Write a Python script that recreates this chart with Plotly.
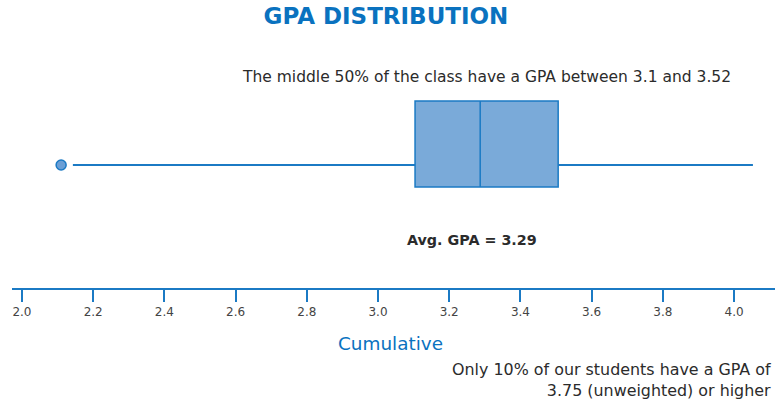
import plotly.graph_objects as go

# Data
q1 = [3.104]
median = [3.287]
q3 = [3.506]
lower_whisker = [2.143]
upper_whisker = [4.053]
outliers = [2.11]
tick_vals = [2.0, 2.2, 2.4, 2.6, 2.8, 3.0, 3.2, 3.4, 3.6, 3.8, 4.0]
tick_text = ["2.0", "2.2", "2.4", "2.6", "2.8", "3.0", "3.2", "3.4", "3.6", "3.8", "4.0"]

BLUE_LINE = "#1b7ac4"
BOX_FILL = "#7aaad9"
TITLE_BLUE = "#0a72bf"
TEXT = "#2b2b2b"

BOX_Y = 0.5806
WHISK_Y = 0.496

fig = go.Figure()

# Box body (whiskers drawn separately at their own level)
fig.add_trace(go.Box(
    orientation="h",
    y=[BOX_Y],
    q1=q1, median=median, q3=q3,
    lowerfence=q1, upperfence=q3,
    width=0.3468,
    whiskerwidth=0,
    fillcolor=BOX_FILL,
    line=dict(color=BLUE_LINE, width=1.5),
    boxpoints=False,
    hoverinfo="skip",
    showlegend=False,
))

# Whiskers
fig.add_trace(go.Scatter(
    x=[lower_whisker[0], q1[0], None, q3[0], upper_whisker[0]],
    y=[WHISK_Y, WHISK_Y, None, WHISK_Y, WHISK_Y],
    mode="lines",
    line=dict(color=BLUE_LINE, width=2),
    showlegend=False, hoverinfo="skip",
))

# Outlier
fig.add_trace(go.Scatter(
    x=outliers, y=[WHISK_Y] * len(outliers),
    mode="markers",
    marker=dict(size=10, color="#6a9fd6", line=dict(color=BLUE_LINE, width=1.5)),
    showlegend=False, hoverinfo="skip",
))

font_family = "DejaVu Sans, sans-serif"

fig.update_layout(
    width=775, height=400,
    margin=dict(l=12, r=0, t=40, b=112),
    paper_bgcolor="white", plot_bgcolor="white",
    font=dict(family=font_family, color=TEXT),
    title=dict(text="<b>GPA DISTRIBUTION</b>", x=0.498, xanchor="center",
               y=1 - 16 / 400, yanchor="middle",
               font=dict(size=23, color=TITLE_BLUE, family=font_family)),
    xaxis=dict(range=[1.972, 4.115], tickvals=tick_vals, ticktext=tick_text,
               showgrid=False, zeroline=False,
               showline=True, linecolor=BLUE_LINE, linewidth=2,
               ticks="outside", ticklen=12, tickwidth=2, tickcolor=BLUE_LINE,
               tickfont=dict(size=12, color="#444444")),
    yaxis=dict(range=[0, 1], visible=False, fixedrange=True),
    annotations=[
        dict(text="The middle 50% of the class have a GPA between 3.1 and 3.52",
             xref="paper", yref="paper", x=0.6225, y=0.8508,
             xanchor="center", yanchor="middle", showarrow=False,
             font=dict(size=15.5, color=TEXT)),
        dict(text="<b>Avg. GPA = 3.29</b>",
             xref="paper", yref="paper", x=0.603, y=0.1935,
             xanchor="center", yanchor="middle", showarrow=False,
             font=dict(size=14.3, color=TEXT)),
        dict(text="Cumulative",
             xref="paper", yref="paper", x=0.4967, y=-0.2218,
             xanchor="center", yanchor="middle", showarrow=False,
             font=dict(size=18.4, color=TITLE_BLUE)),
        dict(text="Only 10% of our students have a GPA of<br>3.75 (unweighted) or higher",
             xref="paper", yref="paper", x=0.9975, y=-0.371,
             xanchor="right", yanchor="middle", align="right", showarrow=False,
             font=dict(size=15.9, color=TEXT)),
    ],
)

fig.write_html(
    "out.html",
    config={"displayModeBar": False},
    post_script="document.body.style.margin='0';document.body.style.overflow='hidden';",
)
